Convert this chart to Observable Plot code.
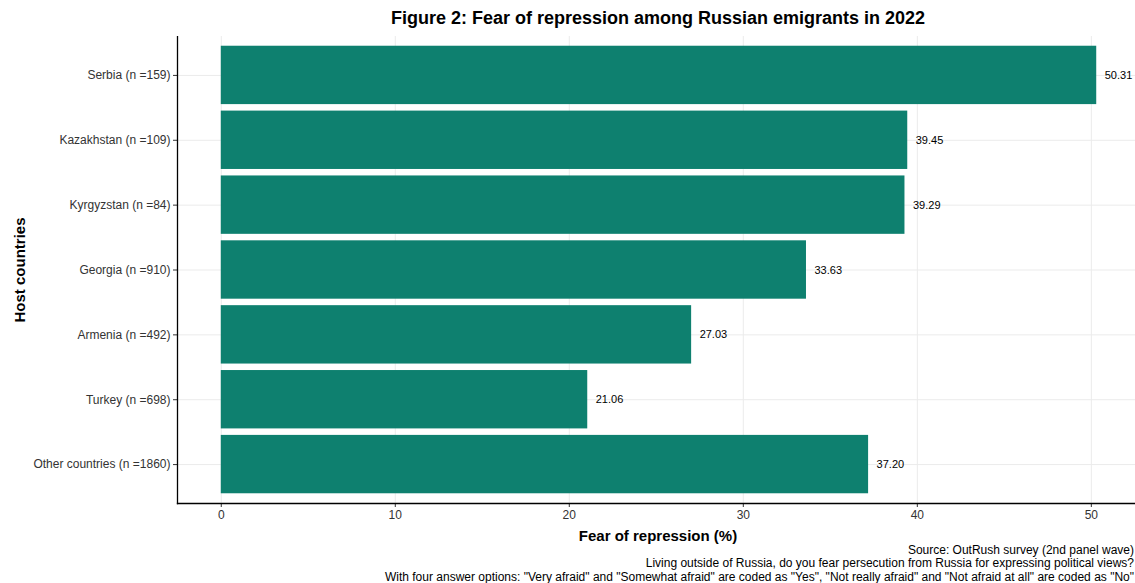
<!DOCTYPE html>
<html>
<head>
<meta charset="utf-8">
<script src="https://cdn.jsdelivr.net/npm/d3@7"></script>
<script src="https://cdn.jsdelivr.net/npm/@observablehq/plot@0.6"></script>
<style>
  body { margin: 0; background: #fff; font-family: "Liberation Sans", Arial, Helvetica, sans-serif; }
  #wrap { position: relative; width: 1135px; height: 583px; overflow: hidden; }
  #title { height: 36px; width: 1135px; box-sizing: border-box; padding-left: 181px; text-align: center; font-weight: bold; font-size: 18px; line-height: 36px; color: #000; }
  #caption { width: 1134px; text-align: right; font-size: 12px; line-height: 13.5px; color: #000; white-space: nowrap; margin-top: 0.5px; }
  #ylab { position: absolute; left: 19px; top: 270px; transform: translate(-50%, -50%) rotate(-90deg); font-weight: bold; font-size: 15px; white-space: nowrap; }
  #xlab { position: absolute; left: 658px; top: 535px; transform: translate(-50%, -50%); font-weight: bold; font-size: 15px; white-space: nowrap; }
  svg { display: block; }
</style>
</head>
<body>
<div id="wrap">
  <div id="title">Figure 2: Fear of repression among Russian emigrants in 2022</div>
  <div id="chart"></div>
  <div id="caption"></div>
  <div id="ylab">Host countries</div>
  <div id="xlab"></div>
</div>
<script>
const countries = ["Serbia (n =159)", "Kazakhstan (n =109)", "Kyrgyzstan (n =84)", "Georgia (n =910)", "Armenia (n =492)", "Turkey (n =698)", "Other countries (n =1860)"];
const values = [50.31, 39.45, 39.29, 33.63, 27.03, 21.06, 37.20];
const xTicks = [0, 10, 20, 30, 40, 50];
const xTitle = "Fear of repression (%)";
const captionLines = [
  "Source: OutRush survey (2nd panel wave)",
  "Living outside of Russia, do you fear persecution from Russia for expressing political views?",
  "With four answer options: \"Very afraid\" and \"Somewhat afraid\" are coded as \"Yes\", \"Not really afraid\" and \"Not afraid at all\" are coded as \"No\""
];

const data = countries.map((c, i) => ({country: c, value: values[i], label: values[i].toFixed(2)}));
const maxV = d3.max(values);
const xDomain = [-0.05 * maxV, maxV * 1.05];

const chart = Plot.plot({
  width: 1135,
  height: 507,
  marginTop: 0,
  marginBottom: 40,
  marginLeft: 177,
  marginRight: 0,
  style: {fontFamily: "'Liberation Sans', Arial, Helvetica, sans-serif", background: "#fff", fontSize: "12px"},
  x: {domain: xDomain, range: [177, 1140], label: null},
  y: {domain: countries, paddingInner: 0.1, paddingOuter: 0.15, round: false, label: null},
  marks: [
    Plot.gridX(xTicks, {stroke: "#ebebeb", strokeOpacity: 1, strokeWidth: 1}),
    Plot.gridY(countries, {stroke: "#ebebeb", strokeOpacity: 1, strokeWidth: 1}),
    Plot.barX(data, {x: "value", y: "country", fill: "#0e806f"}),
    Plot.text(data, {x: "value", y: "country", text: "label", textAnchor: "start", dx: 8, fontSize: 11, fill: "#000"}),
    Plot.axisX({ticks: xTicks, tickSize: 4, tickPadding: 3, fontSize: 12, color: "#333", label: null}),
    Plot.axisY({tickSize: 4, tickPadding: 3, fontSize: 12, color: "#333", label: null}),
    Plot.frame({anchor: "left", stroke: "#000", strokeWidth: 1.3}),
    Plot.frame({anchor: "bottom", stroke: "#000", strokeWidth: 1.3})
  ]
});
document.getElementById("chart").appendChild(chart);
document.getElementById("xlab").textContent = xTitle;
document.getElementById("caption").innerHTML = captionLines.map(s => s.replace(/&/g, "&amp;").replace(/</g, "&lt;")).join("<br>");
</script>
</body>
</html>
